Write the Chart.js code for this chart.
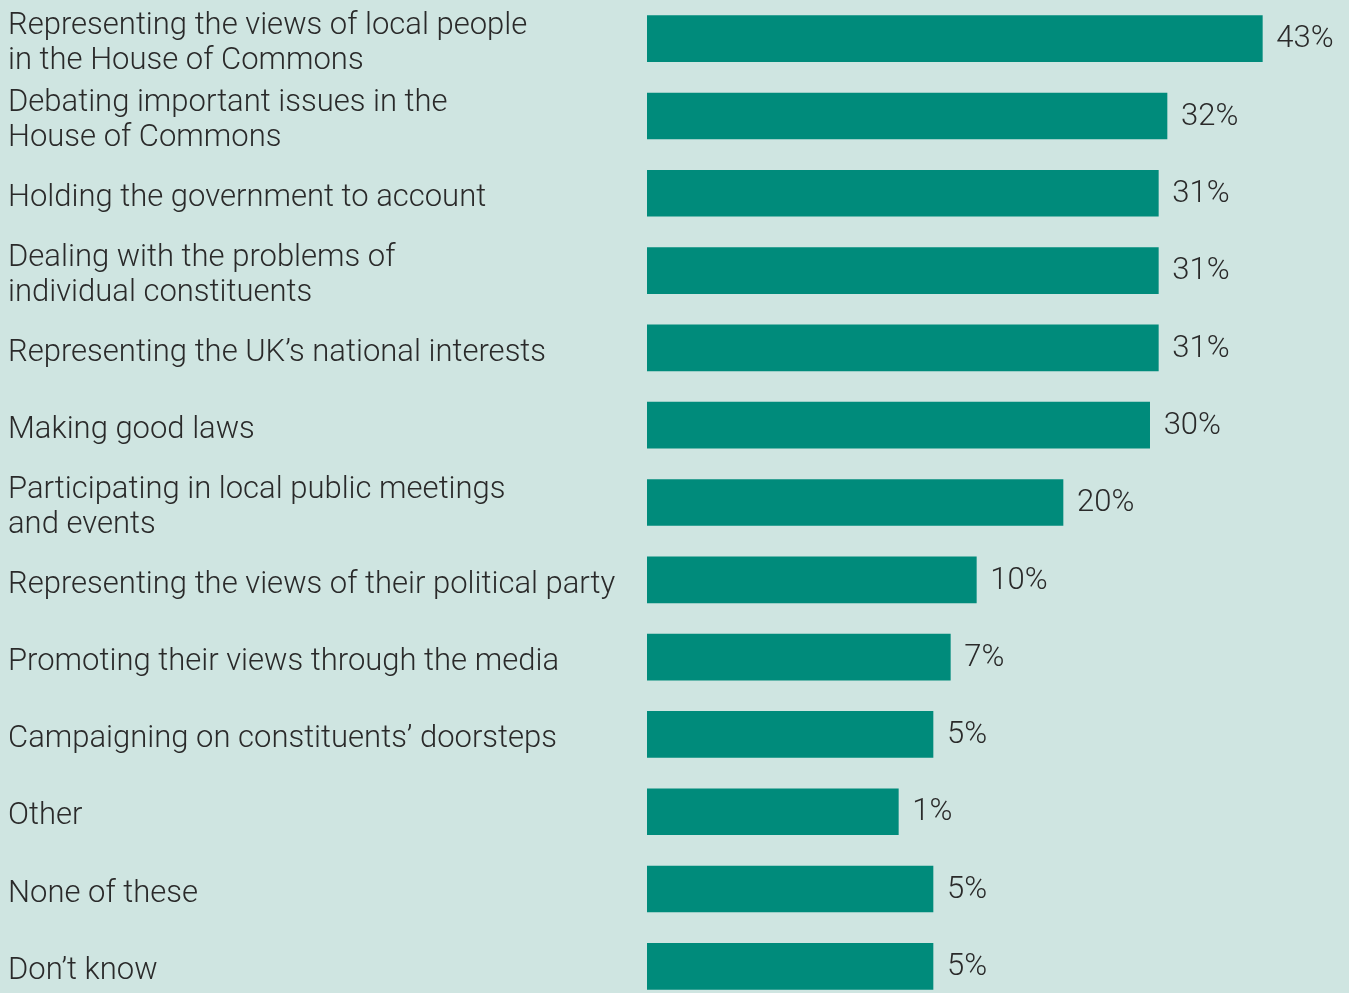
<!DOCTYPE html>
<html>
<head>
<meta charset="utf-8">
<script src="https://cdn.jsdelivr.net/npm/chart.js@4.4.1/dist/chart.umd.min.js"></script>
<style>
  html, body { margin: 0; padding: 0; background: #cfe5e1; overflow: hidden; }
  #wrap { width: 1349px; height: 1005px; }
</style>
</head>
<body>
<div id="wrap"><canvas id="mpRoles" width="1349" height="1005"></canvas></div>
<script>
// What people think MPs should be doing (share of respondents)
const roles = [
  ['Representing the views of local people', 'in the House of Commons'],
  ['Debating important issues in the', 'House of Commons'],
  'Holding the government to account',
  ['Dealing with the problems of', 'individual constituents'],
  'Representing the UK\u2019s national interests',
  'Making good laws',
  ['Participating in local public meetings', 'and events'],
  'Representing the views of their political party',
  'Promoting their views through the media',
  'Campaigning on constituents\u2019 doorsteps',
  'Other',
  'None of these',
  'Don\u2019t know'
];
const shares = [43, 32, 31, 31, 31, 30, 20, 10, 7, 5, 1, 5, 5];

const textColor = '#2a2a2a';
const barColor = '#008b7b';
const fontFamily = 'Roboto, "Liberation Sans", sans-serif';
const textFont = '300 31px ' + fontFamily;

// category names, left aligned, sitting a touch below each band's centre
const roleLabels = {
  id: 'roleLabels',
  afterDraw(chart) {
    const ctx = chart.ctx;
    const yScale = chart.scales.y;
    const lineGap = 35;
    ctx.save();
    ctx.fillStyle = textColor;
    ctx.font = textFont;
    ctx.textAlign = 'left';
    ctx.textBaseline = 'middle';
    roles.forEach((role, i) => {
      const lines = Array.isArray(role) ? role : [role];
      const yMid = yScale.getPixelForTick(i) + 5;
      lines.forEach((line, k) => {
        const y = yMid + (k - (lines.length - 1) / 2) * lineGap;
        ctx.fillText(line, chart.options.layout.padding.left, y);
      });
    });
    ctx.restore();
  }
};

// percentage printed just past the end of each bar
const valueLabels = {
  id: 'valueLabels',
  afterDatasetsDraw(chart) {
    const ctx = chart.ctx;
    const meta = chart.getDatasetMeta(0);
    ctx.save();
    ctx.fillStyle = textColor;
    ctx.font = textFont;
    ctx.textAlign = 'left';
    ctx.textBaseline = 'middle';
    meta.data.forEach((bar, i) => {
      ctx.fillText(shares[i] + '%', bar.x + 14, bar.y + 1);
    });
    ctx.restore();
  }
};

new Chart(document.getElementById('mpRoles'), {
  type: 'bar',
  data: {
    labels: roles,
    datasets: [{
      data: shares,
      base: -28,
      backgroundColor: barColor,
      borderWidth: 0,
      barThickness: 46
    }]
  },
  options: {
    indexAxis: 'y',
    responsive: false,
    animation: false,
    layout: { padding: { left: 8, top: 0, right: 0, bottom: 0 } },
    plugins: {
      legend: { display: false },
      tooltip: { enabled: false }
    },
    scales: {
      x: {
        min: -28,
        max: 53,
        display: false
      },
      y: {
        grid: { display: false, drawTicks: false },
        border: { display: false },
        ticks: { display: false },
        afterFit(scale) {
          scale.width = 639;
          scale.paddingTop = 0;
          scale.paddingBottom = 0;
        }
      }
    }
  },
  plugins: [valueLabels, roleLabels]
});
</script>
</body>
</html>
